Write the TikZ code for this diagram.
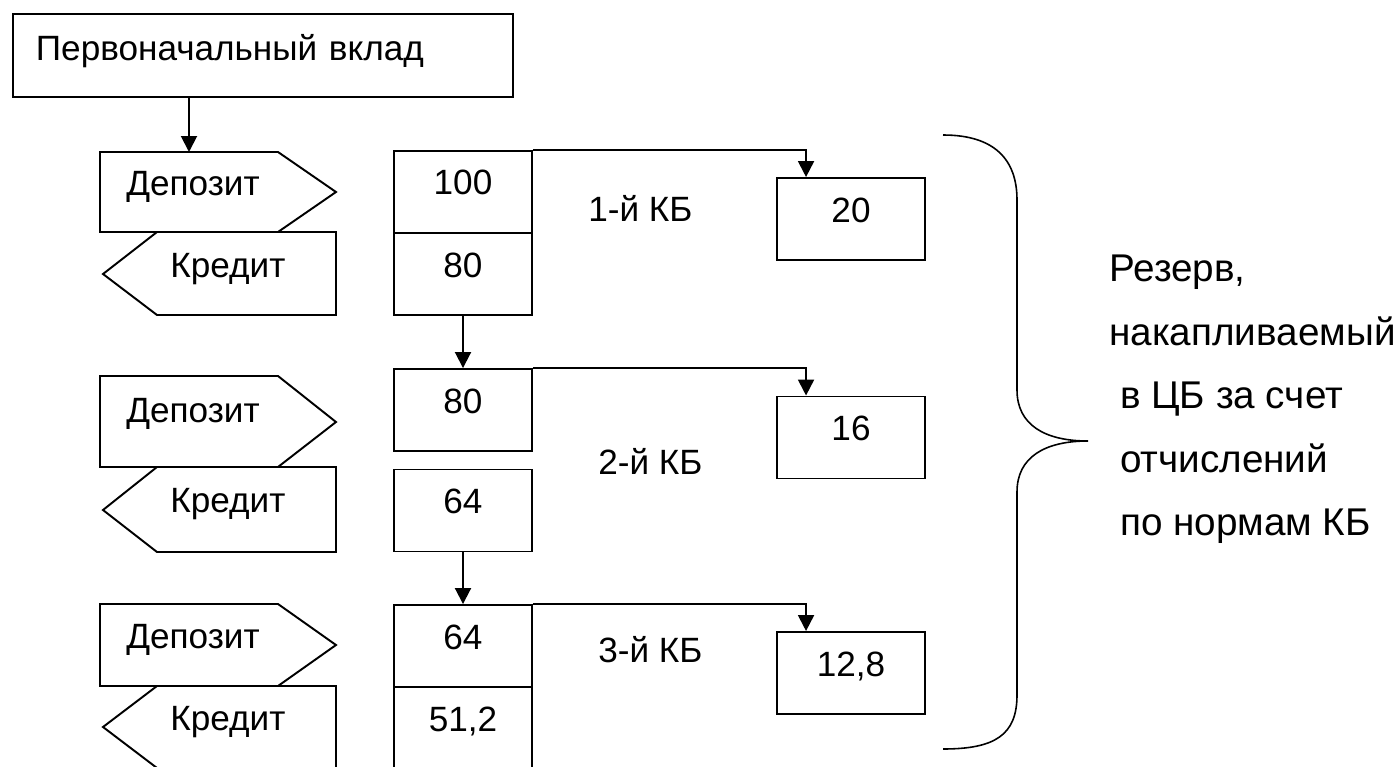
\documentclass[tikz,border=0pt]{standalone}
\usepackage{fontspec}
\setmainfont{Liberation Sans}
\usetikzlibrary{arrows.meta}

\tikzset{
  cell/.style={draw, line width=1.1pt, minimum width=2.76cm, text height=0.88cm, text depth=0.76cm, inner ysep=0pt},
  rescell/.style={cell, minimum width=2.96cm},
  arr/.style={-{Triangle[length=0.32cm,width=0.32cm]}, line width=1.1pt},
  outline/.style={line width=1.1pt, line join=miter},
  lbl/.style={inner sep=0pt}
}

\begin{document}
\begin{tikzpicture}[x=0.02cm, y=-0.02cm, font=\fontsize{20}{24}\selectfont]
\useasboundingbox (0,0) rectangle (1400,767);

% Initial deposit
\node[draw, line width=1.1pt, anchor=north west, inner xsep=0.46cm, inner ysep=0pt, text width=9.08cm, align=left, text height=0.94cm, text depth=0.72cm] (start) at (12,13) {Первоначальный вклад};

% Deposits and credits
\node[lbl, anchor=base west] (dep1) at (126,195) {Депозит};
\draw[outline] (100,152) -- (278,152) -- (336,192) -- (278,232) -- (100,232) -- cycle;
\node[lbl, anchor=base west] (cred1) at (170,277) {Кредит};
\draw[outline] (157,232) -- (336,232) -- (336,315) -- (157,315) -- (103,274) -- cycle;

\node[lbl, anchor=base west] (dep2) at (126,422) {Депозит};
\draw[outline] (100,376) -- (278,376) -- (336,422) -- (278,467) -- (100,467) -- cycle;
\node[lbl, anchor=base west] (cred2) at (170,512) {Кредит};
\draw[outline] (157,467) -- (336,467) -- (336,552) -- (157,552) -- (103,510) -- cycle;

\node[lbl, anchor=base west] (dep3) at (126,648) {Депозит};
\draw[outline] (100,604) -- (278,604) -- (336,645) -- (278,686) -- (100,686) -- cycle;
\node[lbl, anchor=base west] (cred3) at (170,730) {Кредит};
\draw[outline] (157,686) -- (336,686) -- (336,768) -- (157,768) -- (103,727) -- cycle;

% Banks
\node[cell] (b1a) at (463,192) {100};
\node[cell] (b1b) at (463,274) {80};
\node[cell] (b2a) at (463,410) {80};
\node[cell] (b2b) at (463,510.5) {64};
\node[cell] (b3a) at (463,646) {64};
\node[cell] (b3b) at (463,728) {51,2};

\node[lbl, anchor=base west] (kb1) at (588,221) {1-й КБ};
\node[lbl, anchor=base west] (kb2) at (598,474) {2-й КБ};
\node[lbl, anchor=base west] (kb3) at (598,662) {3-й КБ};

% Reserves
\node[rescell] (r1) at (851,219) {20};
\node[rescell] (r2) at (851,437.5) {16};
\node[rescell] (r3) at (851,673) {12,8};

% Arrows
\coordinate (dep1in) at (189,152);
\draw[arr] (start.south -| dep1in) -- (dep1in);
\draw[arr] (b1b) -- (b2a);
\draw[arr] (b2b) -- (b3a);
\draw[arr] (b1a.north east) -| ([xshift=0.6cm]r1.north west);
\draw[arr] (b2a.north east) -| ([xshift=0.6cm]r2.north west);
\draw[arr] (b3a.north east) -| ([xshift=0.6cm]r3.north west);

% Brace
\draw[line width=0.9pt] (943,135) .. controls (995,135) and (1017,160) .. (1017,200) -- (1017,390) .. controls (1017,425) and (1045,441) .. (1088,441) .. controls (1045,441) and (1017,457) .. (1017,492) -- (1017,695) .. controls (1017,735) and (995,749) .. (943,749);

\node[lbl, anchor=north west, align=left, font=\fontsize{22}{36.1}\selectfont] (reserve) at (1109,255) {Резерв,\\накапливаемый\\~в ЦБ за счет\\~отчислений\\~по нормам КБ};
\end{tikzpicture}
\end{document}
